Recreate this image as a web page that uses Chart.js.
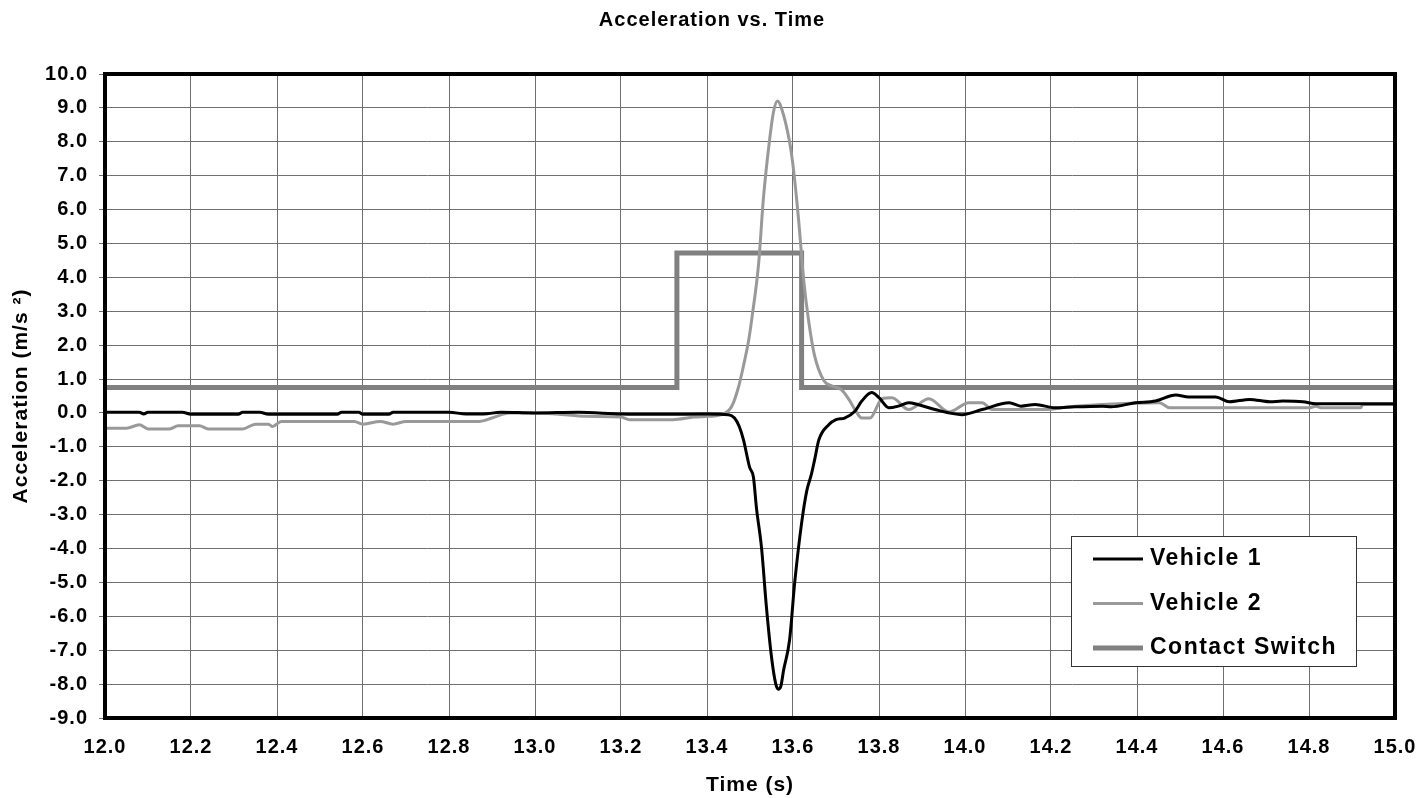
<!DOCTYPE html>
<html>
<head>
<meta charset="utf-8">
<title>Acceleration vs. Time</title>
<script src="https://cdn.jsdelivr.net/npm/chart.js@4"></script>
<style>
  body { margin: 0; background: #fff; }
  .chart-box { position: relative; width: 1424px; height: 798px; }
</style>
</head>
<body>
<div class="chart-box"><canvas id="myChart"></canvas></div>
<script>
// Data
const v1_time = [12.00, 12.08, 12.09, 12.10, 12.18, 12.20, 12.31, 12.32, 12.36, 12.38, 12.54, 12.55, 12.59, 12.60, 12.66, 12.67, 12.80, 12.84, 12.88, 12.92, 13.00, 13.10, 13.20, 13.30, 13.40, 13.450, 13.464, 13.475, 13.485, 13.499, 13.508, 13.515, 13.527, 13.538, 13.550, 13.560, 13.566, 13.572, 13.578, 13.592, 13.604, 13.620, 13.632, 13.643, 13.650, 13.660, 13.683, 13.700, 13.720, 13.744, 13.760, 13.783, 13.800, 13.823, 13.845, 13.869, 13.890, 13.930, 13.993, 14.040, 14.103, 14.130, 14.163, 14.210, 14.256, 14.320, 14.340, 14.396, 14.443, 14.490, 14.520, 14.583, 14.615, 14.662, 14.709, 14.739, 14.786, 14.816, 15.00];
const v1_accel = [0.02, 0.02, -0.03, 0.02, 0.02, -0.04, -0.04, 0.02, 0.02, -0.04, -0.04, 0.02, 0.02, -0.04, -0.04, 0.02, 0.02, -0.03, -0.03, 0.02, 0.00, 0.02, -0.03, -0.04, -0.03, -0.05, -0.15, -0.4, -0.8, -1.6, -1.9, -2.8, -4.0, -5.7, -7.2, -8.0, -8.15, -8.05, -7.6, -6.7, -5.0, -3.25, -2.3, -1.8, -1.4, -0.8, -0.35, -0.2, -0.15, 0.05, 0.35, 0.6, 0.45, 0.15, 0.2, 0.3, 0.25, 0.1, -0.05, 0.1, 0.3, 0.2, 0.25, 0.15, 0.18, 0.2, 0.18, 0.3, 0.35, 0.53, 0.47, 0.47, 0.33, 0.4, 0.33, 0.35, 0.33, 0.27, 0.27];

const v2_time = [12.00, 12.05, 12.08, 12.10, 12.15, 12.17, 12.22, 12.24, 12.32, 12.35, 12.38, 12.39, 12.41, 12.58, 12.60, 12.64, 12.67, 12.70, 12.87, 12.90, 12.94, 13.00, 13.05, 13.12, 13.20, 13.22, 13.32, 13.37, 13.403, 13.434, 13.457, 13.473, 13.485, 13.497, 13.505, 13.520, 13.531, 13.545, 13.555, 13.564, 13.573, 13.592, 13.601, 13.613, 13.625, 13.636, 13.650, 13.672, 13.690, 13.713, 13.730, 13.744, 13.760, 13.779, 13.807, 13.830, 13.869, 13.916, 13.963, 14.009, 14.040, 14.063, 14.086, 14.186, 14.242, 14.319, 14.452, 14.476, 14.800, 14.816, 14.830, 14.920, 14.925, 15.00];
const v2_accel = [-0.45, -0.45, -0.35, -0.47, -0.47, -0.38, -0.38, -0.47, -0.47, -0.33, -0.33, -0.4, -0.25, -0.25, -0.33, -0.25, -0.33, -0.25, -0.25, -0.15, 0.0, 0.0, -0.03, -0.1, -0.12, -0.2, -0.2, -0.12, -0.1, -0.05, 0.18, 0.75, 1.4, 2.15, 2.85, 4.4, 6.3, 8.0, 8.9, 9.2, 9.0, 8.0, 7.2, 5.7, 3.9, 2.75, 1.7, 0.95, 0.8, 0.68, 0.4, 0.1, -0.15, -0.15, 0.42, 0.45, 0.1, 0.42, 0.03, 0.3, 0.3, 0.1, 0.1, 0.1, 0.18, 0.25, 0.3, 0.15, 0.15, 0.2, 0.15, 0.15, 0.25, 0.25];

const switch_time = [12.00, 13.33, 13.33, 13.62, 13.62, 15.00];
const switch_state = [0.75, 0.75, 4.72, 4.72, 0.75, 0.75];

const series_labels = ["Vehicle 1", "Vehicle 2", "Contact Switch"];
const series_colors = ["#000000", "#999999", "#808080"];
const series_widths = [3, 3, 5];

const ctx = document.getElementById("myChart").getContext("2d");
const font_family = "'Liberation Sans', Arial, sans-serif";

function toPoints(times, values) {
  return times.map((t, i) => ({ x: t, y: values[i] }));
}

// Slightly wider letter spacing, like the original rendering
const wideText = {
  id: "wideText",
  beforeInit(chart) {
    chart.ctx.letterSpacing = "1px";
  },
  beforeDraw(chart) {
    chart.ctx.letterSpacing = "1px";
  }
};

// Thick black frame around the plot area
const plotFrame = {
  id: "plotFrame",
  afterDatasetsDraw(chart) {
    const a = chart.chartArea;
    const c = chart.ctx;
    c.save();
    c.strokeStyle = "#000";
    c.lineWidth = 4;
    c.strokeRect(a.left, a.top, a.right - a.left, a.bottom - a.top);
    c.restore();
  }
};

// Legend box inside the plot, lower right
const boxLegend = {
  id: "boxLegend",
  afterDraw(chart) {
    const c = chart.ctx;
    const left = 1071, top = 536, width = 285, height = 130;
    c.save();
    c.fillStyle = "#fff";
    c.fillRect(left, top, width, height);
    c.strokeStyle = "#333";
    c.lineWidth = 1;
    c.strokeRect(left + 0.5, top + 0.5, width, height);
    c.font = "bold 23px " + font_family;
    c.letterSpacing = "1.5px";
    c.textBaseline = "middle";
    c.fillStyle = "#000";
    chart.data.datasets.forEach((ds, i) => {
      const y = 559 + i * 44.5;
      c.strokeStyle = ds.borderColor;
      c.lineWidth = ds.borderWidth;
      c.beginPath();
      c.moveTo(1093, y);
      c.lineTo(1143, y);
      c.stroke();
      c.fillText(ds.label, 1150, y);
    });
    c.restore();
  }
};

const myChart = new Chart(ctx, {
  type: "line",
  data: {
    datasets: [
      {
        label: series_labels[0],
        data: toPoints(v1_time, v1_accel),
        borderColor: series_colors[0],
        borderWidth: series_widths[0],
        cubicInterpolationMode: "monotone",
        pointRadius: 0
      },
      {
        label: series_labels[1],
        data: toPoints(v2_time, v2_accel),
        borderColor: series_colors[1],
        borderWidth: series_widths[1],
        cubicInterpolationMode: "monotone",
        pointRadius: 0
      },
      {
        label: series_labels[2],
        data: toPoints(switch_time, switch_state),
        borderColor: series_colors[2],
        borderWidth: series_widths[2],
        tension: 0,
        pointRadius: 0
      }
    ]
  },
  options: {
    responsive: true,
    maintainAspectRatio: false,
    animation: false,
    layout: { padding: 0 },
    plugins: {
      legend: { display: false },
      tooltip: { enabled: false },
      title: {
        display: true,
        text: "Acceleration vs. Time",
        color: "#000",
        font: { family: font_family, size: 20, weight: "bold" },
        padding: { top: 8, bottom: 42 }
      }
    },
    scales: {
      x: {
        type: "linear",
        min: 12,
        max: 15,
        afterFit: (scale) => {
          scale.height = 80;
          scale.paddingLeft = 0;
          scale.paddingRight = 29;
        },
        border: { display: false },
        grid: { color: "#707070", lineWidth: 1, drawTicks: false },
        ticks: {
          stepSize: 0.2,
          padding: 17,
          color: "#000",
          font: { family: font_family, size: 20, weight: "bold" },
          callback: (v) => v.toFixed(1)
        },
        title: {
          display: true,
          text: "Time (s)",
          color: "#000",
          font: { family: font_family, size: 21, weight: "bold" },
          padding: 0
        }
      },
      y: {
        min: -9,
        max: 10,
        afterFit: (scale) => { scale.width = 105; },
        border: { display: false },
        grid: { color: "#707070", lineWidth: 1, tickLength: 6 },
        ticks: {
          stepSize: 1,
          padding: 11,
          color: "#000",
          font: { family: font_family, size: 20, weight: "bold" },
          callback: (v) => v.toFixed(1)
        },
        title: {
          display: true,
          text: "Acceleration (m/s ²)",
          color: "#000",
          font: { family: font_family, size: 21, weight: "bold" },
          padding: { top: 9, bottom: 0 }
        }
      }
    }
  },
  plugins: [wideText, plotFrame, boxLegend]
});
</script>
</body>
</html>
